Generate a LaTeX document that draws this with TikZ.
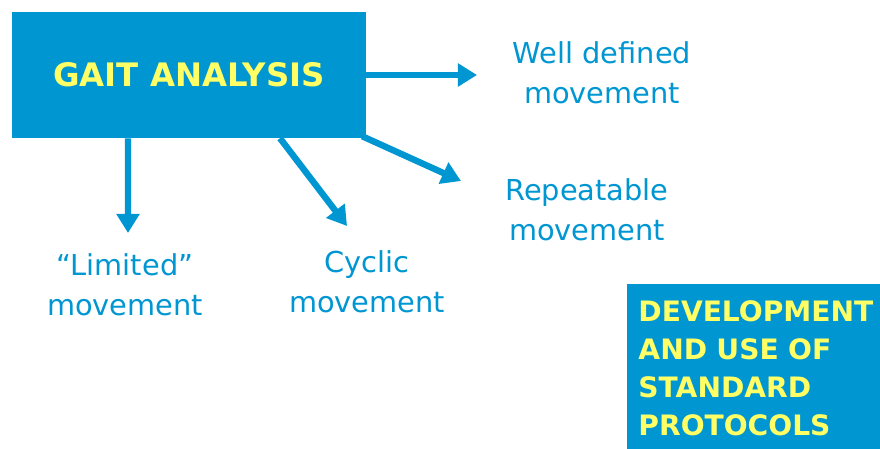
\documentclass[tikz,border=0pt]{standalone}
\usepackage{fontspec}
\setmainfont{DejaVu Sans}
\usetikzlibrary{arrows.meta}
\definecolor{gaitblue}{RGB}{0,150,210}
\definecolor{gaityellow}{RGB}{255,255,102}
\tikzset{
  bluebox/.style={fill=gaitblue, text=gaityellow, font=\bfseries\fontsize{20}{27}\selectfont},
  label/.style={text=gaitblue, align=center, font=\fontsize{20.5}{28.5}\selectfont},
  arr/.style={draw=gaitblue, line width=0.16cm, -{Triangle[width=0.56cm,length=0.48cm]}}
}
\begin{document}
\begin{tikzpicture}
      \useasboundingbox (0,0) rectangle (22,11.2);
      \clip (0,0) rectangle (22,11.2);
      \node[bluebox, font=\bfseries\fontsize{23}{27}\selectfont, minimum width=8.85cm, minimum height=3.15cm] (gait) at (4.725,9.325) {GAIT ANALYSIS};
      \node[bluebox, anchor=north west, minimum width=6.5cm, minimum height=4.2cm,
            align=left, text width=6.1cm, inner sep=0.28cm] (protocols) at (15.675,4.1)
        {DEVELOPMENT\\AND USE OF\\STANDARD\\PROTOCOLS};
      \draw
        (15.05,9.375) node[label] (welldef){Well defined\\movement}
        (14.675,5.95) node[label] (repeat){Repeatable\\movement}
        (3.125,4.075) node[label] (limited){``Limited''\\movement}
        (9.175,4.15) node[label] (cyclic){Cyclic\\movement};
      % arrow tips stop short of the labels
      \coordinate (tipw) at (11.925,9.325);
      \coordinate (tipr) at (11.525,6.675);
      \coordinate (tipc) at (8.675,5.55);
      \coordinate (tipl) at (3.2,5.375);
      \begin{scope}[arr]
        \draw (gait.east) to (tipw);
        \draw ([xshift=-0.1cm,yshift=0.05cm]gait.south east) to (tipr);
        \draw ([xshift=2.275cm]gait.south) to (tipc);
        \draw ([xshift=-1.525cm]gait.south) to (tipl);
      \end{scope}
    \end{tikzpicture}
\end{document}
